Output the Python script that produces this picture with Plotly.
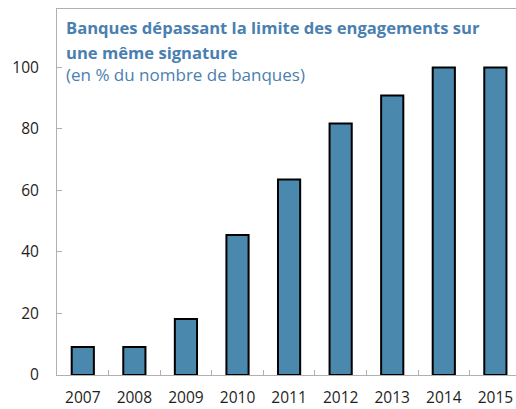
import plotly.graph_objects as go

years = ["2007", "2008", "2009", "2010", "2011", "2012", "2013", "2014", "2015"]
values = [9.1, 9.1, 18.2, 45.5, 63.6, 81.8, 90.9, 100.0, 100.0]
y_ticks = [0, 20, 40, 60, 80, 100]
title_line1 = "Banques dépassant la limite des engagements sur"
title_line2 = "une même signature"
subtitle = "(en % du nombre de banques)"

W, H = 516, 409
L, R, T, B = 57, 0, 9, 34
ph = H - T - B

fig = go.Figure(go.Bar(
    x=years, y=values,
    marker=dict(color="#4a88ad", line=dict(color="#000000", width=2)),
    width=0.43,
))

def ypaper(px):
    return (H - B - px) / ph

font_family = "Open Sans, DejaVu Sans, sans-serif"
title_color = "#4a80b0"
for txt, ypx, bold, size in [(title_line1, 28, True, 16.6), (title_line2, 52, True, 16.6), (subtitle, 75, False, 17)]:
    fig.add_annotation(
        text=("<b>%s</b>" % txt) if bold else txt,
        xref="paper", yref="paper", x=7 / (W - L - R), y=ypaper(ypx),
        xanchor="left", yanchor="middle", showarrow=False,
        font=dict(family=font_family, size=size, color=title_color),
    )

fig.update_layout(
    width=W, height=H,
    margin=dict(l=L, r=R, t=T, b=B, pad=0, autoexpand=False),
    paper_bgcolor="white", plot_bgcolor="white",
    showlegend=False,
    font=dict(family=font_family, size=15.5, color="#1e1e1e"),
    xaxis=dict(
        type="category", range=[-0.5, 8.4], automargin=False,
        showline=True, linecolor="#b0b0b0", linewidth=1, mirror=True,
        ticks="inside", ticklen=5, tickcolor="#b0b0b0", tickson="boundaries",
        showgrid=False, ticklabelstandoff=8, fixedrange=True,
    ),
    yaxis=dict(
        range=[0, 119], tickvals=y_ticks, automargin=False,
        showline=True, linecolor="#b0b0b0", linewidth=1,
        ticks="inside", ticklen=5, tickcolor="#b0b0b0",
        showgrid=False, zeroline=False, ticklabelstandoff=14, fixedrange=True,
    ),
)

fig.write_html(
    "out.html",
    config={"displayModeBar": False},
    post_script="document.body.style.margin='0';document.body.style.overflow='hidden';",
)
